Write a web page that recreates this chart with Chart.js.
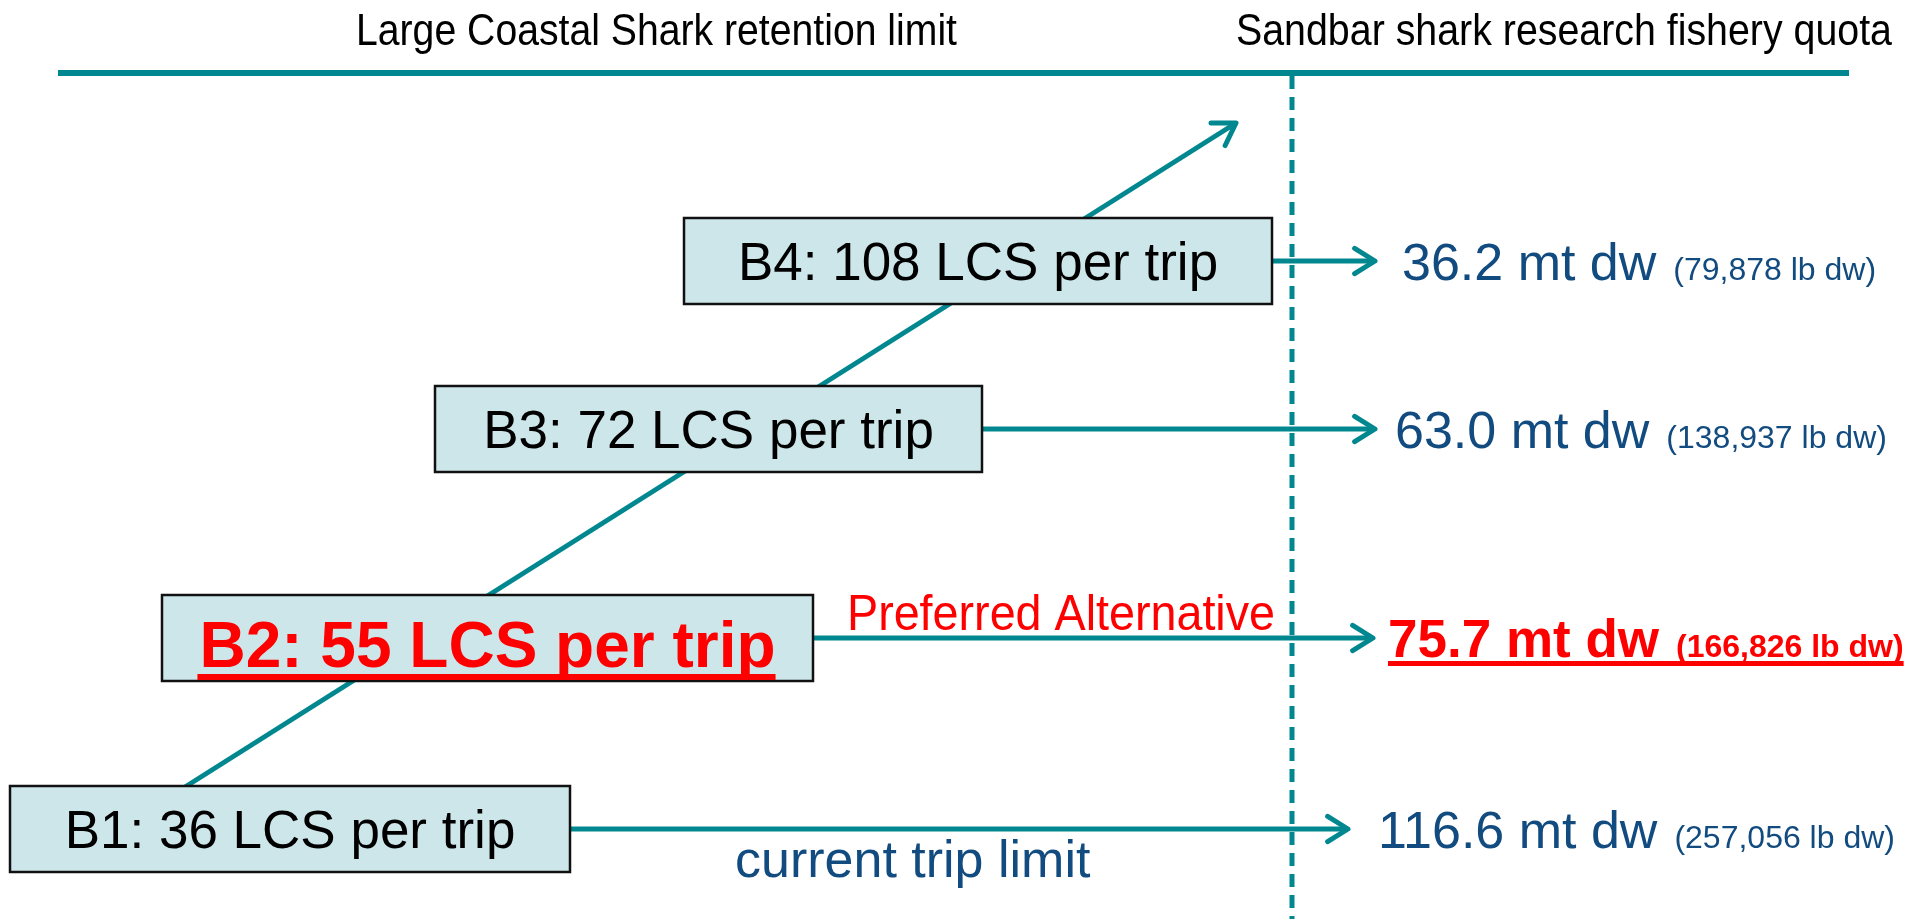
<!DOCTYPE html>
<html><head><meta charset="utf-8">
<script src="https://cdn.jsdelivr.net/npm/chart.js@4/dist/chart.umd.min.js"></script>
<style>html,body{margin:0;padding:0;background:#fff;overflow:hidden}#wrap{width:1923px;height:919px;position:relative}</style>
</head><body><div id="wrap"><canvas id="c"></canvas></div>
<script>
// ---- data ----
const alternatives = ["B1", "B2", "B3", "B4"];
const tripLimits = [36, 55, 72, 108];
const quotaMt = [116.6, 75.7, 63.0, 36.2];
const quotaLb = [257056, 166826, 138937, 79878];
const preferredIndex = 1;
const currentIndex = 0;
const headerLabels = ["Large Coastal Shark retention limit", "Sandbar shark research fishery quota"];
const noteLabels = ["current trip limit", "Preferred Alternative"];

// ---- layout (diagram units = reference pixels) ----
const layout = {
  rowY: [829, 638, 429, 261],
  boxLeft: [10, 162, 435, 684],
  boxRight: [570, 813, 982, 1272],
  boxHalfH: 43,
  arrowTip: [1348, 1373, 1375, 1375],
  valueX: [1378, 1388, 1395, 1402],
  rule: {x0: 58, x1: 1849, y: 73},
  divider: {x: 1292, y0: 76, y1: 919},
  diag: {x0: 185, y0: 787, x1: 1236, y1: 123},
  headers: [{x0: 356, x1: 957, y: 45}, {x0: 1236, x1: 1892, y: 45}],
  preferredNote: {x0: 847, x1: 1275, y: 630},
  currentNote: {x: 735, y: 877}
};

const TEAL = '#00878f', NAVY = '#114b7f', RED = '#ff0000', BOXFILL = '#cde6ea';

const datasets = [];
datasets.push({data: [{x: layout.rule.x0, y: layout.rule.y}, {x: layout.rule.x1, y: layout.rule.y}], borderColor: TEAL, borderWidth: 6});
alternatives.forEach((a, i) => {
  datasets.push({data: [{x: layout.boxRight[i], y: layout.rowY[i]}, {x: layout.arrowTip[i] - 2, y: layout.rowY[i]}], borderColor: TEAL, borderWidth: 5});
});
datasets.push({data: [{x: layout.diag.x0, y: layout.diag.y0}, {x: layout.diag.x1, y: layout.diag.y1}], borderColor: TEAL, borderWidth: 5});
datasets.push({data: [{x: layout.divider.x, y: layout.divider.y0}, {x: layout.divider.x, y: layout.divider.y1}], borderColor: TEAL, borderWidth: 5, borderDash: [13, 8]});

function fitText(ctx, text, x0, x1, y, font, color) {
  ctx.save();
  ctx.font = font;
  ctx.fillStyle = color;
  ctx.textBaseline = 'alphabetic';
  ctx.textAlign = 'left';
  const w = ctx.measureText(text).width;
  const s = (x1 - x0) / w;
  ctx.translate(x0, y);
  ctx.scale(s, 1);
  ctx.fillText(text, 0, 0);
  ctx.restore();
}

function arrowHead(ctx, tx, ty, angle, len, half, color, lw) {
  ctx.save();
  ctx.strokeStyle = color; ctx.lineWidth = lw; ctx.lineCap = 'round'; ctx.lineJoin = 'round';
  ctx.beginPath();
  ctx.moveTo(tx + len * Math.cos(angle + Math.PI - half), ty + len * Math.sin(angle + Math.PI - half));
  ctx.lineTo(tx, ty);
  ctx.lineTo(tx + len * Math.cos(angle + Math.PI + half), ty + len * Math.sin(angle + Math.PI + half));
  ctx.stroke();
  ctx.restore();
}

const diagramPlugin = {
  id: 'diagram',
  afterDatasetsDraw(chart) {
    const {ctx, scales: {x, y}} = chart;
    const X = v => x.getPixelForValue(v), Y = v => y.getPixelForValue(v);
    const half = 32 * Math.PI / 180;
    // arrowheads
    alternatives.forEach((a, i) => arrowHead(ctx, X(layout.arrowTip[i]), Y(layout.rowY[i]), 0, 24, half, TEAL, 5));
    const d = layout.diag;
    const ang = Math.atan2(Y(d.y1) - Y(d.y0), X(d.x1) - X(d.x0));
    arrowHead(ctx, X(d.x1), Y(d.y1), ang, 25, half, TEAL, 5);

    // boxes and labels
    alternatives.forEach((a, i) => {
      const l = X(layout.boxLeft[i]), r = X(layout.boxRight[i]);
      const t = Y(layout.rowY[i] - layout.boxHalfH), b = Y(layout.rowY[i] + layout.boxHalfH);
      ctx.save();
      ctx.fillStyle = BOXFILL; ctx.fillRect(l, t, r - l, b - t);
      ctx.strokeStyle = '#111'; ctx.lineWidth = 2.5; ctx.strokeRect(l, t, r - l, b - t);
      const label = `${a}: ${tripLimits[i]} LCS per trip`;
      const cx = (l + r) / 2;
      ctx.textAlign = 'center'; ctx.textBaseline = 'alphabetic';
      if (i === preferredIndex) {
        ctx.font = 'bold 64px "Liberation Sans", Arial, sans-serif';
        ctx.fillStyle = RED;
        const by = Y(layout.rowY[i] + 29);
        ctx.fillText(label, cx, by);
        const w = ctx.measureText(label).width;
        ctx.fillRect(cx - w / 2 - 2, by + 7, w + 2, 6);
      } else {
        ctx.font = '53px "Liberation Sans", Arial, sans-serif';
        ctx.fillStyle = '#000';
        ctx.fillText(label, cx, Y(layout.rowY[i] + 19));
      }
      ctx.restore();
    });

    // quota values
    alternatives.forEach((a, i) => {
      const pref = i === preferredIndex;
      const main = `${quotaMt[i].toFixed(1)} mt dw`;
      const sub = `(${quotaLb[i].toLocaleString('en-US')} lb dw)`;
      const bx = X(layout.valueX[i]), by = Y(layout.rowY[i] + 19);
      ctx.save();
      ctx.textAlign = 'left'; ctx.textBaseline = 'alphabetic';
      ctx.fillStyle = pref ? RED : NAVY;
      ctx.font = (pref ? 'bold 53px ' : '52px ') + '"Liberation Sans", Arial, sans-serif';
      ctx.fillText(main, bx, by);
      const w1 = ctx.measureText(main).width;
      ctx.font = (pref ? 'bold 32px ' : '32px ') + '"Liberation Sans", Arial, sans-serif';
      const sx = bx + w1 + 17;
      ctx.fillText(sub, sx, by);
      const w2 = ctx.measureText(sub).width;
      if (pref) ctx.fillRect(bx, by + 4, sx + w2 - bx, 5);
      ctx.restore();
    });

    // headers and notes
    const narrow = '"Liberation Sans Narrow", "Liberation Sans", Arial, sans-serif';
    headerLabels.forEach((h, k) => {
      const hp = layout.headers[k];
      fitText(ctx, h, X(hp.x0), X(hp.x1), Y(hp.y), '45px ' + narrow, '#000');
    });
    const pn = layout.preferredNote;
    fitText(ctx, noteLabels[1], X(pn.x0), X(pn.x1), Y(pn.y), '50px ' + narrow, RED);
    ctx.save();
    ctx.font = '52px "Liberation Sans", Arial, sans-serif';
    ctx.fillStyle = NAVY; ctx.textAlign = 'left'; ctx.textBaseline = 'alphabetic';
    ctx.fillText(noteLabels[0], X(layout.currentNote.x), Y(layout.currentNote.y));
    ctx.restore();
  }
};

new Chart(document.getElementById('c'), {
  type: 'scatter',
  data: {datasets: datasets.map(ds => Object.assign({showLine: true, pointRadius: 0, fill: false, tension: 0, borderCapStyle: 'butt'}, ds))},
  options: {
    responsive: true, maintainAspectRatio: false, animation: false, devicePixelRatio: 1,
    layout: {padding: 0},
    plugins: {legend: {display: false}, tooltip: {enabled: false}},
    scales: {
      x: {type: 'linear', min: 0, max: 1923, display: false},
      y: {type: 'linear', min: 0, max: 919, reverse: true, display: false}
    },
    elements: {point: {radius: 0, hoverRadius: 0}}
  },
  plugins: [diagramPlugin]
});
</script></body></html>
